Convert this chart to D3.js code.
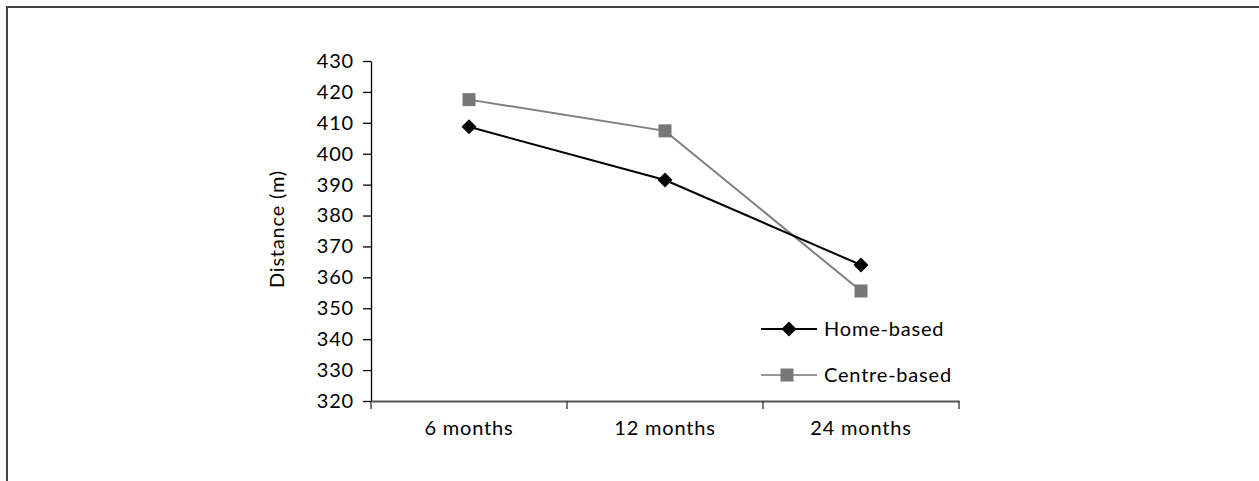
<!DOCTYPE html>
<html><head><meta charset="utf-8">
<script src="https://cdn.jsdelivr.net/npm/d3@7"></script>
<style>body{margin:0;background:#fff}svg{display:block}text{font-family:Lato,"Open Sans",sans-serif;fill:#000;letter-spacing:0.8px}</style>
</head><body>
<svg id="c" width="1259" height="481"></svg>
<script>
const categories = ["6 months", "12 months", "24 months"];
const homeBased = [408.7, 391.5, 364.0];
const centreBased = [417.5, 407.4, 355.6];
const yTicks = [320, 330, 340, 350, 360, 370, 380, 390, 400, 410, 420, 430];
const seriesNames = ["Home-based", "Centre-based"];

const FS = "20px";
const svg = d3.select("#c");
// frame
svg.append("path").attr("d", "M7,481 V7 H1259").attr("fill", "none").attr("stroke", "#444").attr("stroke-width", 2);

const x = d3.scaleBand().domain(categories).range([371, 959]);
const y = d3.scaleLinear().domain([320, 430]).range([401, 61]);

const yAxis = svg.append("g").attr("transform", "translate(371,0)")
  .call(d3.axisLeft(y).tickValues(yTicks).tickSize(8).tickSizeOuter(0).tickPadding(9));
yAxis.select(".domain").attr("stroke", "#000").attr("stroke-width", 1.3);
yAxis.selectAll(".tick line").attr("stroke", "#000").attr("stroke-width", 1.3);
yAxis.selectAll("text").style("font-size", FS);

const xAxis = svg.append("g").attr("transform", "translate(0,401)")
  .call(d3.axisBottom(x).tickSize(0).tickPadding(20));
xAxis.select(".domain").attr("stroke", "#555").attr("stroke-width", 2);
xAxis.selectAll("text").style("font-size", FS);
// boundary ticks
const bounds = categories.map(c => x(c)).concat([x(categories[categories.length-1]) + x.bandwidth()]);
xAxis.selectAll(".bt").data(bounds).enter().append("line")
  .attr("x1", d => d).attr("x2", d => d).attr("y1", 0).attr("y2", 8)
  .attr("stroke", "#333").attr("stroke-width", 1.3);

svg.append("text").attr("transform", "translate(284,229) rotate(-90)")
  .attr("text-anchor", "middle").style("font-size", FS).text("Distance (m)");

const cx = c => x(c) + x.bandwidth() / 2;
const line = d3.line().x((d, i) => cx(categories[i])).y(d => y(d));

svg.append("path").datum(centreBased).attr("d", line).attr("fill", "none").attr("stroke", "#808080").attr("stroke-width", 2);
svg.append("path").datum(homeBased).attr("d", line).attr("fill", "none").attr("stroke", "#000").attr("stroke-width", 2);

const diamond = (g, px, py) => g.append("path")
  .attr("d", `M${px},${py-7.5}L${px+7.5},${py}L${px},${py+7.5}L${px-7.5},${py}Z`).attr("fill", "#000");
const square = (g, px, py) => g.append("rect")
  .attr("x", px - 6.5).attr("y", py - 6.5).attr("width", 13).attr("height", 13).attr("fill", "#777");

centreBased.forEach((v, i) => square(svg, cx(categories[i]), y(v)));
homeBased.forEach((v, i) => diamond(svg, cx(categories[i]), y(v)));

// legend
const lg = svg.append("g");
const ly = [329, 375];
lg.append("line").attr("x1", 761).attr("x2", 817).attr("y1", ly[0]).attr("y2", ly[0]).attr("stroke", "#000").attr("stroke-width", 2);
diamond(lg, 789, ly[0]);
lg.append("line").attr("x1", 761).attr("x2", 817).attr("y1", ly[1]).attr("y2", ly[1]).attr("stroke", "#999").attr("stroke-width", 2);
square(lg, 787, ly[1]);
seriesNames.forEach((n, i) => lg.append("text").attr("x", 824).attr("y", ly[i]).attr("dy", "0.35em").style("font-size", FS).text(n));
</script>
</body></html>
